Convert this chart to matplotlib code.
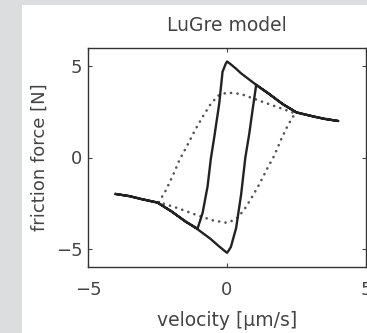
import matplotlib
matplotlib.use("Agg")
import matplotlib.pyplot as plt
from matplotlib.patches import Rectangle

# Solid hysteresis loop (velocity [um/s], friction force [N])
solid_v = [-4.0, -3.5, -3.1, -2.5, -2.0, -1.5, -1.06, -0.6, -0.3, -0.1, 0.0,
           0.05, 0.14, 0.33, 0.51, 0.66, 0.8, 0.92, 1.05,
           1.5, 2.0, 2.5, 3.1, 3.5, 4.0,
           3.5, 3.1, 2.5, 2.0, 1.5, 1.05, 0.5, 0.3, 0.1, 0.0,
           -0.05, -0.16, -0.28, -0.46, -0.58, -0.7, -0.88, -1.06,
           -1.5, -2.0, -2.5, -3.1, -3.5, -4.0]
solid_f = [-2.0, -2.12, -2.27, -2.47, -2.95, -3.5, -3.93, -4.45, -4.85, -5.1, -5.22,
           -5.12, -4.9, -3.85, -2.0, 0.0, 1.3, 2.6, 3.98,
           3.5, 2.93, 2.47, 2.25, 2.12, 2.0,
           2.12, 2.25, 2.47, 2.93, 3.5, 3.98, 4.62, 4.9, 5.15, 5.26,
           5.12, 4.7, 2.95, 1.1, -0.05, -1.6, -3.05, -3.9,
           -3.5, -2.95, -2.47, -2.27, -2.12, -2.0]

# Dotted hysteresis loop
dot_v = [-2.45, -2.2, -1.95, -1.7, -1.45, -1.15, -0.88, -0.6, -0.33, 0.0, 0.5, 1.15, 1.8, 2.45,
         2.2, 1.95, 1.7, 1.45, 1.15, 0.88, 0.6, 0.33, 0.0, -0.5, -1.15, -1.8, -2.45]
dot_f = [-2.45, -1.8, -1.0, -0.1, 0.6, 1.5, 2.22, 2.9, 3.38, 3.56, 3.48, 3.12, 2.77, 2.42,
         1.8, 1.0, 0.1, -0.6, -1.5, -2.22, -2.9, -3.38, -3.58, -3.45, -3.12, -2.76, -2.45]

xticks = [-5, 0, 5]
yticks = [-5, 0, 5]

plt.rcParams['font.family'] = ['DejaVu Sans']

fig = plt.figure(figsize=(3.67, 3.33), dpi=100)
fig.patch.set_facecolor('#dcdddf')
fig.add_artist(Rectangle((22 / 367, 0), 1, 1 - 5 / 333, transform=fig.transFigure,
                         facecolor='white', edgecolor='none', zorder=-10))

ax = fig.add_axes([88 / 367, 1 - 267 / 333, (366 - 88) / 367, (267 - 48) / 333])
ax.set_zorder(5)
ax.set_facecolor('white')
ax.plot(dot_v, dot_f, color='#555555', lw=1.9, linestyle=(0, (0.05, 2.4)),
        dash_capstyle='round')
ax.plot(solid_v, solid_f, color='#222222', lw=1.7)

ax.set_xlim(-5, 5)
ax.set_ylim(-6, 6)
ax.set_xticks(xticks)
ax.set_yticks(yticks)
ax.set_xticklabels(['\u22125', '0', '5'])
ax.set_yticklabels(['\u22125', '0', '5'])
ax.tick_params(direction='in', top=True, right=True, length=3, width=0.8,
               labelsize=13, colors='#444444')
ax.tick_params(axis='x', pad=10)
ax.tick_params(axis='y', pad=4)
for s in ax.spines.values():
    s.set_color('#333333')
    s.set_linewidth(1.0)

ax.set_title('LuGre model', fontsize=13.5, color='#444444', pad=12)
ax.set_xlabel('velocity [\u03bcm/s]', fontsize=13.5, color='#444444', labelpad=9)
ax.set_ylabel('friction force [N]', fontsize=13, color='#444444', labelpad=5)

fig.savefig('out.png', dpi=100, facecolor=fig.get_facecolor())
